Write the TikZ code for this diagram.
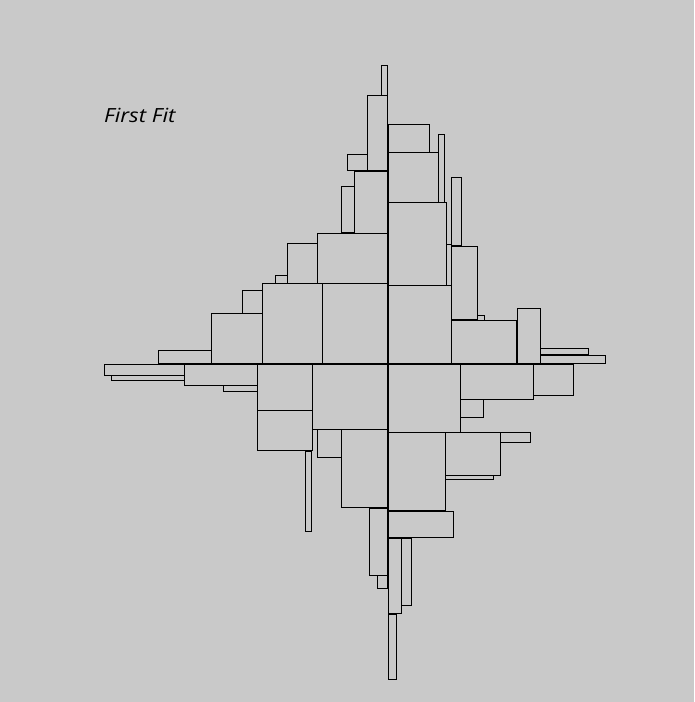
\documentclass[tikz,border=0pt]{standalone}
\usepackage{fontspec}
\setmainfont{Open Sans}
\definecolor{bg}{RGB}{201,201,201}
\tikzset{box/.style={draw=black,line width=1pt}}
\begin{document}
\begin{tikzpicture}[x=1pt,y=-1pt]
\fill[bg] (0,0) rectangle (694,702);
\useasboundingbox (0,0) rectangle (694,702);
\node[anchor=base west,inner sep=0pt,font=\fontsize{19.5}{22}\selectfont\itshape] (title) at (104,122.5) {\scalebox{1.14}[1]{First Fit}};
\begin{scope}[shift={(0.5,0.5)}]
\foreach \a/\b/\c/\d in {
381/65/387/95, 367/95/387/170, 347/154/367/170, 354/171/387/233, 341/186/354/232,
317/233/387/283, 287/243/317/283, 275/275/287/283, 262/283/322/363, 322/283/387/363,
242/290/262/313, 211/313/262/363, 158/350/211/363,
104/364/184/375, 111/375/184/380, 184/364/257/385, 223/385/257/391, 257/364/312/410,
257/410/312/450, 312/364/387/429, 317/429/341/457, 341/429/387/507, 305/451/311/531,
369/508/387/575, 377/575/387/588,
388/364/460/432, 460/364/533/399, 533/364/573/395, 460/399/483/417, 388/432/445/510,
445/432/500/475, 500/432/530/442, 445/475/493/479, 388/511/453/537, 388/538/401/613,
401/538/411/605, 388/614/396/679,
388/124/429/152, 388/152/438/202, 438/134/444/202, 388/202/446/285, 446/244/451/285,
451/177/461/245, 451/246/477/319, 477/315/484/320, 451/320/516/363, 388/285/451/363,
517/308/540/363, 540/348/588/354, 540/355/605/363}
  \draw[box] (\a,\b) rectangle (\c,\d);
\end{scope}
\end{tikzpicture}
\end{document}
